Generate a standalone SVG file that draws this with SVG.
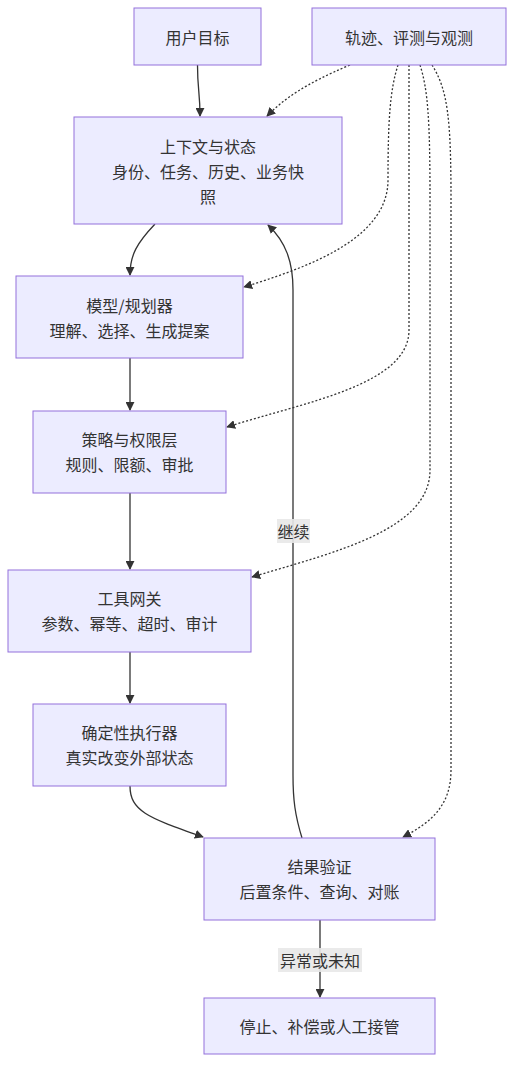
<svg xmlns="http://www.w3.org/2000/svg" width="532" height="1080" viewBox="0 0 532 1080">
<style>
.node rect{fill:#ECECFF;stroke:#9370DB;stroke-width:1px}
text{font-family:"Noto Sans CJK SC","Noto Sans",sans-serif;font-size:16px;fill:#333;text-anchor:middle;dominant-baseline:central}
.edge{fill:none;stroke:#333;stroke-width:1.3px}
.dot{stroke-dasharray:2 2}
.lbl rect{fill:#e8e8e8;opacity:0.9}
</style>
<defs>
<marker id="arr" viewBox="0 0 10 10" refX="9" refY="5" markerWidth="9" markerHeight="9" markerUnits="userSpaceOnUse" orient="auto">
<path d="M0,0 L10,5 L0,10 z" fill="#333"/>
</marker>
</defs>
<rect width="532" height="1080" fill="#fff"/>
<g id="connectors">
<path class="edge" d="M197.5,65 C197.5,90 200,92 200,116" marker-end="url(#arr)"/>
<path class="edge" d="M155,224 C137,243 130,255 130,275" marker-end="url(#arr)"/>
<path class="edge" d="M130,358 L130,410" marker-end="url(#arr)"/>
<path class="edge" d="M130,493 L130,569" marker-end="url(#arr)"/>
<path class="edge" d="M130,652 L130,703" marker-end="url(#arr)"/>
<path class="edge" d="M130,786 C130,812 150,818 203,837" marker-end="url(#arr)"/>
<path class="edge" d="M302,838 C295,815 293,800 293,775 L293,290 C293,262 286,242 268,225" marker-end="url(#arr)"/>
<path class="edge" d="M320,920 L320,997" marker-end="url(#arr)"/>
<path class="edge dot" d="M350,65 C305,84 285,98 267,116" marker-end="url(#arr)"/>
<path class="edge dot" d="M398,65 C390,90 388,120 388,180 C388,240 305,268 244,287" marker-end="url(#arr)"/>
<path class="edge dot" d="M409,65 L409,330 C409,385 305,402 227,427" marker-end="url(#arr)"/>
<path class="edge dot" d="M420,65 C428,90 430,120 430,200 L430,470 C430,530 335,552 252,577" marker-end="url(#arr)"/>
<path class="edge dot" d="M432,65 C448,90 451,120 451,200 L451,770 C451,805 432,822 403,837" marker-end="url(#arr)"/>
<g class="lbl"><rect x="277" y="519" width="33" height="24"/><text x="293.5" y="531">继续</text></g>
<g class="lbl"><rect x="278" y="948" width="84" height="24"/><text x="320" y="960">异常或未知</text></g>
</g>
<g id="n-goal" class="node"><rect x="134" y="8" width="127" height="57"/><text x="197.5" y="36.5">用户目标</text></g>
<g id="n-trace" class="node"><rect x="312" y="8" width="194" height="57"/><text x="409" y="36.5">轨迹、评测与观测</text></g>
<g id="n-context" class="node"><rect x="74" y="117" width="268" height="107"/><text x="208" y="146">上下文与状态</text><text x="208" y="171">身份、任务、历史、业务快</text><text x="208" y="196">照</text></g>
<g id="n-model" class="node"><rect x="16" y="276" width="227" height="82"/><text x="129.5" y="305">模型/规划器</text><text x="129.5" y="330">理解、选择、生成提案</text></g>
<g id="n-policy" class="node"><rect x="33" y="411" width="193" height="82"/><text x="129.5" y="439">策略与权限层</text><text x="129.5" y="464">规则、限额、审批</text></g>
<g id="n-gateway" class="node"><rect x="8" y="570" width="243" height="82"/><text x="129.5" y="598">工具网关</text><text x="129.5" y="623">参数、幂等、超时、审计</text></g>
<g id="n-exec" class="node"><rect x="33" y="704" width="193" height="82"/><text x="129.5" y="732">确定性执行器</text><text x="129.5" y="757">真实改变外部状态</text></g>
<g id="n-verify" class="node"><rect x="204" y="838" width="231" height="82"/><text x="319.5" y="866">结果验证</text><text x="319.5" y="891">后置条件、查询、对账</text></g>
<g id="n-stop" class="node"><rect x="204" y="998" width="231" height="56"/><text x="319.5" y="1026">停止、补偿或人工接管</text></g>
</svg>
